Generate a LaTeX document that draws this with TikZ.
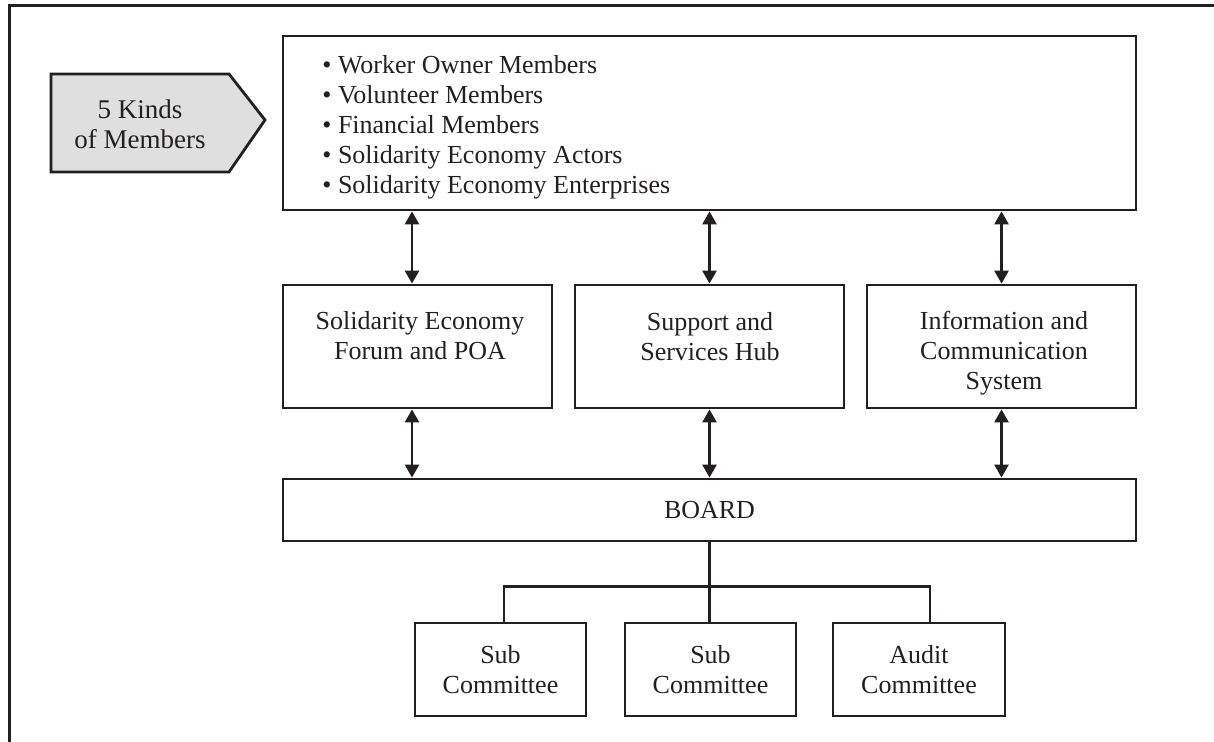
\documentclass[tikz,border=0pt]{standalone}
\usepackage{fontspec}
\setmainfont{Liberation Serif}
\usetikzlibrary{arrows.meta}
\definecolor{ink}{HTML}{231F20}
\definecolor{tagfill}{HTML}{DFDFDF}
\begin{document}
\begin{tikzpicture}[x=0.5pt,y=-0.5pt,
  every node/.style={font=\fontsize{13}{15}\selectfont, text=ink},
  box/.style={draw=ink, line width=1.4pt, rectangle, inner sep=0pt, align=center},
  txt/.style={inner sep=0pt, align=center},
  conn/.style={draw=ink, line width=1.3pt},
  dbl/.style={conn, {Triangle[length=6.5pt,width=7pt]}-{Triangle[length=6.5pt,width=7pt]}},
  frameline/.style={draw=ink, line width=1.5pt}]
\useasboundingbox (0,0) rectangle (1214,742);

% outer frame (open at right and bottom)
\draw[frameline] (1214,6) -- (9,6) -- (9,742);

% tag pointing to the member list
\draw[draw=ink, fill=tagfill, line width=1.4pt, line join=miter]
  (51,74) -- (229,74) -- (265,120) -- (229,172) -- (51,172) -- cycle;
\node[txt, font=\fontsize{13.5}{15}\selectfont] (kinds) at (140,124) {5 Kinds\\of Members};

% member box
\node[box, minimum width=426.5pt, minimum height=87pt] (members) at (709.5,123) {};
\node[txt, align=left, anchor=north west] (memberlist) at (322,55)
  {\textbullet\ Worker Owner Members\\
   \textbullet\ Volunteer Members\\
   \textbullet\ Financial Members\\
   \textbullet\ Solidarity Economy Actors\\
   \textbullet\ Solidarity Economy Enterprises};

% middle row
\node[box, minimum width=134.5pt, minimum height=61.5pt] (forum) at (417.5,346.5) {};
\node[box, minimum width=134.5pt, minimum height=61.5pt] (hub) at (709.5,346.5) {};
\node[box, minimum width=134.5pt, minimum height=61.5pt] (ics) at (1001.5,346.5) {};
\node[txt, anchor=north] (forumtext) at (420,311) {Solidarity Economy\\Forum and POA};
\node[txt, anchor=north] (hubtext) at (710,312) {Support and\\Services Hub};
\node[txt, anchor=north] (icstext) at (1004,311) {Information and\\Communication\\System};

% board
\node[box, minimum width=426.5pt, minimum height=31pt] (board) at (709.5,510) {BOARD};

% committees
\node[box, minimum width=85.5pt, minimum height=46.5pt] (subA) at (500.5,669.5) {Sub\\Committee};
\node[box, minimum width=85.5pt, minimum height=46.5pt] (subB) at (710.5,669.5) {Sub\\Committee};
\node[box, minimum width=86pt, minimum height=46.5pt] (subC) at (919,669.5) {Audit\\Committee};

% two-way links: members <-> middle row
\draw[dbl] ([xshift=-2.75pt]forum.north |- members.south) -- ([xshift=-2.75pt]forum.north);
\draw[dbl] (hub.north |- members.south) -- (hub.north);
\draw[dbl] (ics.north |- members.south) -- (ics.north);

% two-way links: middle row <-> board
\draw[dbl] ([xshift=-2.75pt]forum.south) -- ([xshift=-2.75pt]forum.south |- board.north);
\draw[dbl] (hub.south) -- (hub.south |- board.north);
\draw[dbl] (ics.south) -- (ics.south |- board.north);

% board to committees
\draw[conn] (board.south) -- (board.south |- subB.north);
\draw[conn] ([xshift=1.75pt]subA.north) -- ++(0,-35) -| ([xshift=5.5pt]subC.north);
\end{tikzpicture}
\end{document}
